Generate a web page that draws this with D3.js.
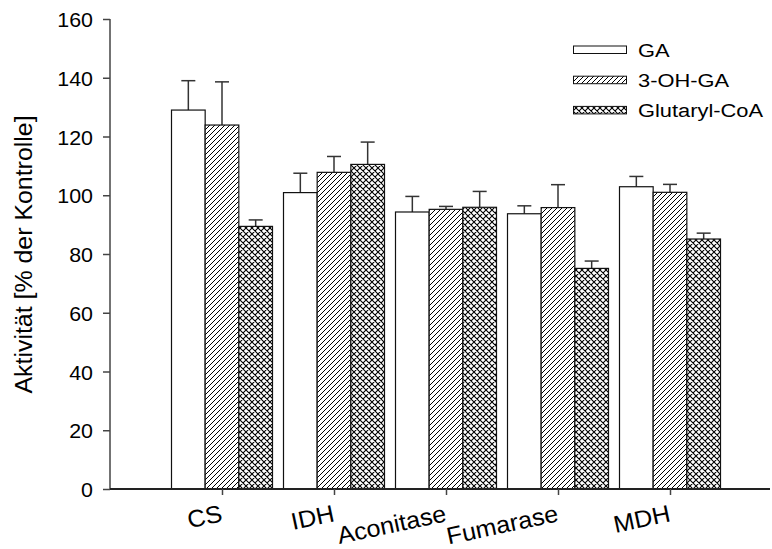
<!DOCTYPE html>
<html><head><meta charset="utf-8">
<script src="https://cdn.jsdelivr.net/npm/d3@7"></script>
<style>body{margin:0;background:#fff}svg{display:block}text{font-family:"Liberation Sans",Arial,sans-serif;fill:#000}</style>
</head><body>
<svg id="chart" width="772" height="549"></svg>
<script>
const categories = ["CS","IDH","Aconitase","Fumarase","MDH"];
const seriesNames = ["GA","3-OH-GA","Glutaryl-CoA"];
const gaValues = [129.0, 100.9, 94.3, 93.7, 102.9];
const gaErrors = [10.0, 6.6, 5.3, 2.7, 3.5];
const ohValues = [123.9, 107.8, 95.2, 95.8, 101.0];
const ohErrors = [14.7, 5.4, 1.0, 7.8, 2.7];
const glutValues = [89.4, 110.5, 95.9, 75.1, 85.1];
const glutErrors = [2.2, 7.6, 5.4, 2.5, 2.0];
const yTicks = [0,20,40,60,80,100,120,140,160];
const yLabel = "Aktivität [% der Kontrolle]";

const series = [
  {name: seriesNames[0], values: gaValues, errors: gaErrors, fill: "#fff"},
  {name: seriesNames[1], values: ohValues, errors: ohErrors, fill: "url(#hatch)"},
  {name: seriesNames[2], values: glutValues, errors: glutErrors, fill: "url(#cross)"}
];

const svg = d3.select("#chart");
const defs = svg.append("defs");
const h = defs.append("pattern").attr("id","hatch").attr("patternUnits","userSpaceOnUse").attr("width",5).attr("height",5);
h.append("rect").attr("width",5).attr("height",5).attr("fill","#fff");
h.append("path").attr("d","M-1,6 L6,-1 M-1,1 L1,-1 M4,6 L6,4").attr("stroke","#000").attr("stroke-width",1);
const c = defs.append("pattern").attr("id","cross").attr("patternUnits","userSpaceOnUse").attr("width",6).attr("height",6);
c.append("rect").attr("width",6).attr("height",6).attr("fill","#fff");
c.append("path").attr("d","M-1,7 L7,-1 M-1,-1 L7,7 M-1,1 L1,-1 M5,7 L7,5 M-1,5 L1,7 M5,-1 L7,1").attr("stroke","#000").attr("stroke-width",1.1);

const x = d3.scalePoint().domain(categories).range([110, 782]).padding(1);
const inner = d3.scaleBand().domain(seriesNames).range([-50.5, 50.5]).padding(0);
const y = d3.scaleLinear().domain([0,160]).range([489,19]);

series.forEach(s => {
  const g = svg.append("g");
  g.selectAll("line.err").data(categories).enter().append("line")
    .attr("x1", (d,i)=> x(d)+inner(s.name)+inner.bandwidth()/2)
    .attr("x2", (d,i)=> x(d)+inner(s.name)+inner.bandwidth()/2)
    .attr("y1", (d,i)=> y(s.values[i]))
    .attr("y2", (d,i)=> y(s.values[i]+s.errors[i]))
    .attr("stroke","#333").attr("stroke-width",1.5);
  g.selectAll("line.cap").data(categories).enter().append("line")
    .attr("x1", (d,i)=> x(d)+inner(s.name)+inner.bandwidth()/2-7)
    .attr("x2", (d,i)=> x(d)+inner(s.name)+inner.bandwidth()/2+7)
    .attr("y1", (d,i)=> y(s.values[i]+s.errors[i]))
    .attr("y2", (d,i)=> y(s.values[i]+s.errors[i]))
    .attr("stroke","#333").attr("stroke-width",1.5);
  g.selectAll("rect").data(categories).enter().append("rect")
    .attr("x", d=> x(d)+inner(s.name))
    .attr("width", inner.bandwidth())
    .attr("y", (d,i)=> y(s.values[i]))
    .attr("height", (d,i)=> y(0)-y(s.values[i]))
    .attr("fill", s.fill).attr("stroke","#111").attr("stroke-width",1.2);
});

const yAxis = d3.axisLeft(y).tickValues(yTicks).tickSize(7).tickPadding(0).tickFormat(d3.format("d"));
const ya = svg.append("g").attr("transform","translate(110,0)").call(yAxis);
ya.select(".domain").attr("stroke","#444").attr("stroke-width",1.5).attr("d","M0,19V489");
ya.selectAll(".tick line").attr("stroke","#444").attr("stroke-width",1.5);
ya.selectAll(".tick text").remove();
ya.selectAll(".tick").append("text")
  .attr("transform","translate(-17,7.5) scale(1.07,1)")
  .attr("text-anchor","end").attr("font-size",20).text(d=>d);

const xAxis = d3.axisBottom(x).tickSize(6).tickFormat("");
const xa = svg.append("g").attr("transform","translate(0,489)").call(xAxis);
xa.select(".domain").attr("stroke","#222").attr("stroke-width",1.8).attr("d","M110,0H770");
xa.selectAll(".tick line").attr("stroke","#444").attr("stroke-width",1.5);
xa.selectAll(".tick").append("text")
  .attr("transform","translate(1,32) rotate(-12) scale(1.05,1)")
  .attr("text-anchor","end").attr("font-size",24).text(d=>d);

svg.append("text").attr("transform","translate(32,254.5) rotate(-90) scale(1.06,1)")
  .attr("text-anchor","middle").attr("font-size",23.5).text(yLabel);

const leg = svg.append("g");
series.forEach((s,i) => {
  leg.append("rect").attr("x",573.5).attr("y",46+30.2*i).attr("width",53).attr("height",7.5)
    .attr("fill",s.fill).attr("stroke","#111").attr("stroke-width",1);
  leg.append("text").attr("transform",`translate(638,${57+30*i}) scale(1.15,1)`)
    .attr("font-size",19).text(s.name);
});
</script>
</body></html>
